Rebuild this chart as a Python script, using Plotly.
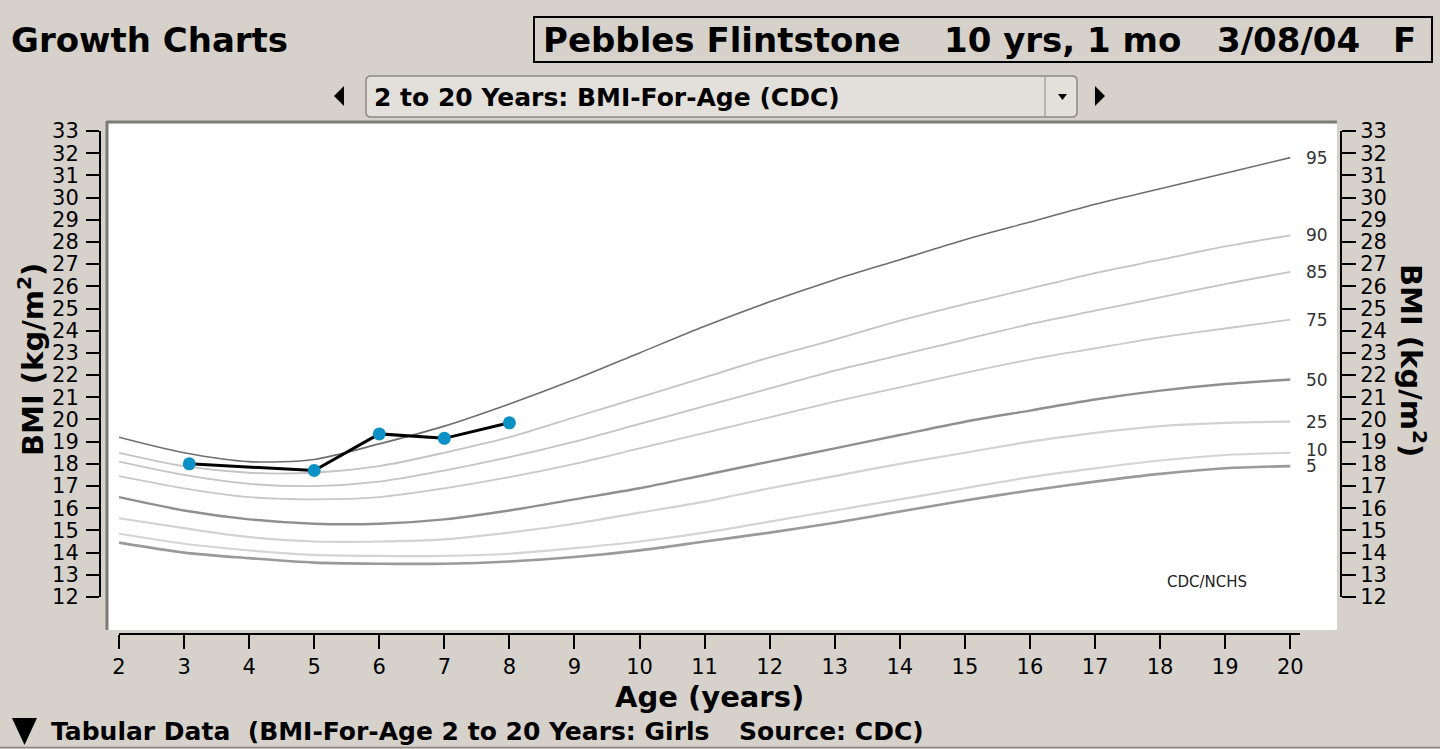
import plotly.graph_objects as go

W, H = 1440, 749
BG = "#d6d2cb"
FONT = "DejaVu Sans"

# CDC BMI-for-age percentiles, girls 2-20 years
ages = list(range(2, 21))
p5 = [14.45, 14.0, 13.75, 13.55, 13.5, 13.5, 13.6, 13.8, 14.1, 14.5, 14.9, 15.35, 15.85, 16.35, 16.8, 17.2, 17.55, 17.8, 17.9]
p10 = [14.85, 14.4, 14.1, 13.9, 13.85, 13.85, 13.95, 14.2, 14.5, 14.9, 15.4, 15.9, 16.4, 16.9, 17.4, 17.8, 18.15, 18.4, 18.5]
p25 = [15.55, 15.1, 14.7, 14.5, 14.5, 14.6, 14.9, 15.3, 15.8, 16.3, 16.9, 17.45, 18.0, 18.5, 19.0, 19.4, 19.7, 19.85, 19.9]
p50 = [16.5, 15.9, 15.5, 15.3, 15.3, 15.5, 15.9, 16.4, 16.9, 17.5, 18.1, 18.7, 19.3, 19.9, 20.4, 20.9, 21.3, 21.6, 21.8]
p75 = [17.45, 16.9, 16.5, 16.4, 16.5, 16.9, 17.4, 18.0, 18.7, 19.4, 20.1, 20.8, 21.45, 22.1, 22.7, 23.2, 23.7, 24.1, 24.5]
p85 = [18.1, 17.5, 17.1, 17.0, 17.2, 17.7, 18.3, 19.0, 19.8, 20.6, 21.4, 22.2, 22.9, 23.6, 24.3, 24.9, 25.5, 26.1, 26.65]
p90 = [18.5, 17.9, 17.6, 17.6, 17.9, 18.5, 19.2, 20.1, 21.0, 21.9, 22.8, 23.6, 24.45, 25.2, 25.9, 26.6, 27.2, 27.8, 28.3]
p95 = [19.2, 18.5, 18.1, 18.2, 18.9, 19.7, 20.7, 21.8, 23.0, 24.2, 25.3, 26.3, 27.2, 28.1, 28.9, 29.7, 30.4, 31.1, 31.8]

percentiles = ["5", "10", "25", "50", "75", "85", "90", "95"]
curves = [p5, p10, p25, p50, p75, p85, p90, p95]
curve_styles = {
    "5": ("#9a9a9a", 2.6),
    "10": ("#d4d4d4", 2.2),
    "25": ("#d2d2d2", 2.2),
    "50": ("#8f8f8f", 2.4),
    "75": ("#c8c8c8", 1.8),
    "85": ("#c4c4c4", 1.8),
    "90": ("#c4c4c4", 1.8),
    "95": ("#6e6e6e", 1.6),
}

# patient measurements
visit_age = [3.08, 5.0, 6.0, 7.0, 8.0]
visit_bmi = [18.0, 17.7, 19.35, 19.15, 19.85]

yticks = list(range(12, 34))
xticks = list(range(2, 21))


def px(x):
    return x / W


def py(y):
    return 1 - y / H


fig = go.Figure()

for name, vals in zip(percentiles, curves):
    color, width = curve_styles[name]
    fig.add_trace(go.Scatter(
        x=ages, y=vals, mode="lines", line=dict(color=color, width=width, shape="spline", smoothing=0.8),
        hoverinfo="skip", showlegend=False,
    ))

fig.add_trace(go.Scatter(
    x=visit_age, y=visit_bmi, mode="lines+markers",
    line=dict(color="black", width=3),
    marker=dict(color="#0b91c6", size=13),
    showlegend=False,
))

# invisible trace so the right-hand axis gets drawn
fig.add_trace(go.Scatter(x=[ages[0]], y=[yticks[0]], yaxis="y2", mode="markers",
                         marker=dict(opacity=0), hoverinfo="skip", showlegend=False))


def path_shape(points, fill):
    p = "M " + " L ".join(f"{px(a):.5f},{py(b):.5f}" for a, b in points) + " Z"
    return dict(type="path", xref="paper", yref="paper", path=p, fillcolor=fill, line=dict(width=0))


def rounded_rect(x0, y0, x1, y1, r, fill, line_color, line_width):
    sx, sy = r / W, r / H
    a0, a1, b0, b1 = px(x0), px(x1), py(y1), py(y0)
    p = (f"M {a0 + sx:.5f},{b1:.5f} L {a1 - sx:.5f},{b1:.5f} Q {a1:.5f},{b1:.5f} {a1:.5f},{b1 - sy:.5f} "
         f"L {a1:.5f},{b0 + sy:.5f} Q {a1:.5f},{b0:.5f} {a1 - sx:.5f},{b0:.5f} "
         f"L {a0 + sx:.5f},{b0:.5f} Q {a0:.5f},{b0:.5f} {a0:.5f},{b0 + sy:.5f} "
         f"L {a0:.5f},{b1 - sy:.5f} Q {a0:.5f},{b1:.5f} {a0 + sx:.5f},{b1:.5f} Z")
    return dict(type="path", xref="paper", yref="paper", path=p, fillcolor=fill,
                line=dict(color=line_color, width=line_width))


shapes = []
# white chart panel with sunken edge
shapes.append(dict(type="rect", xref="paper", yref="paper", x0=px(108), x1=px(1337), y0=py(630), y1=py(122),
                   fillcolor="white", line=dict(width=0), layer="below"))
shapes.append(dict(type="line", xref="paper", yref="paper", x0=px(107), x1=px(1337), y0=py(122), y1=py(122),
                   line=dict(color="#7d7b77", width=3), layer="below"))
shapes.append(dict(type="line", xref="paper", yref="paper", x0=px(107), x1=px(107), y0=py(630), y1=py(121),
                   line=dict(color="#7d7b77", width=3), layer="below"))
# patient header box
shapes.append(dict(type="rect", xref="paper", yref="paper", x0=px(534), x1=px(1432), y0=py(62), y1=py(17),
                   line=dict(color="black", width=2), fillcolor="rgba(0,0,0,0)"))
# dropdown box
shapes.append(rounded_rect(366, 76, 1077, 117, 5, "#e3e0db", "#8d8983", 1.5))
shapes.append(dict(type="line", xref="paper", yref="paper", x0=px(1045), x1=px(1045), y0=py(116), y1=py(77),
                   line=dict(color="#8d8983", width=1)))
shapes.append(dict(type="line", xref="paper", yref="paper", x0=0, x1=1, y0=py(747.5), y1=py(747.5),
                   line=dict(color="#8a8780", width=1.5)))

shapes.append(path_shape([(334, 96), (344, 86), (344, 106)], "black"))
shapes.append(path_shape([(1105, 96), (1095, 86), (1095, 106)], "black"))
shapes.append(path_shape([(1058, 94), (1067, 94), (1062.5, 100)], "black"))
shapes.append(path_shape([(12, 718), (37, 718), (24.5, 745)], "black"))

annotations = []


def label(text, x, y, size, xanchor="left", bold=True, color="black", textangle=0):
    annotations.append(dict(
        text=f"<b>{text}</b>" if bold else text, x=px(x), y=py(y), xref="paper", yref="paper",
        xanchor=xanchor, yanchor="middle", showarrow=False, textangle=textangle,
        font=dict(family=FONT, size=size, color=color),
    ))


label("Growth Charts", 9, 40, 34)
label("Pebbles Flintstone", 541, 40, 34)
label("10 yrs, 1 mo", 942, 40, 34)
label("3/08/04", 1215, 40, 34)
label("F", 1391, 40, 34)
label("2 to 20 Years: BMI-For-Age (CDC)", 372, 97, 25)
label("Age (years)", 709, 697, 29, xanchor="center")
label("BMI (kg/m<sup>2</sup>)", 31, 360, 29, xanchor="center", textangle=-90)
label("BMI (kg/m<sup>2</sup>)", 1413, 360, 29, xanchor="center", textangle=90)
label("Tabular Data  (BMI-For-Age 2 to 20 Years: Girls", 49, 731, 25)
label("Source: CDC)", 737, 731, 25)
label("CDC/NCHS", 1207, 582, 15, xanchor="center", bold=False, color="#222")

# percentile labels at the end of each curve
for name, vals in zip(percentiles, curves):
    annotations.append(dict(
        text=name, x=ages[-1], y=vals[-1], xref="x", yref="y", xanchor="left", yanchor="middle",
        xshift=14, yshift=3 if name == "10" else 0, showarrow=False,
        font=dict(family=FONT, size=17, color="#333"),
    ))

axis_common = dict(
    showline=True, linecolor="black", linewidth=2, ticks="outside", tickcolor="black",
    tickwidth=2, showgrid=False, zeroline=False, automargin=False,
    tickfont=dict(family=FONT, size=21, color="black"),
)

fig.update_layout(
    width=W, height=H, margin=dict(l=0, r=0, t=0, b=0, pad=0), autosize=False,
    paper_bgcolor=BG, plot_bgcolor="rgba(0,0,0,0)",
    font=dict(family=FONT),
    xaxis=dict(domain=[px(119), px(1300)], range=[2, 20.15], anchor="free", position=py(634),
               tickvals=xticks, ticklen=14, **axis_common),
    yaxis=dict(domain=[py(597), py(131)], range=[12, 33], anchor="free", position=px(100),
               tickvals=yticks, ticklen=13, ticklabelstandoff=3, **axis_common),
    yaxis2=dict(domain=[py(597), py(131)], range=[12, 33], anchor="free", position=px(1341),
                overlaying="y", side="right", tickvals=yticks, ticklen=14, **axis_common),
    shapes=shapes,
    annotations=annotations,
    hovermode="closest",
)

fig.write_html(
    "out.html", config={"displayModeBar": False},
    post_script=f"document.body.style.margin='0';document.body.style.overflow='hidden';"
                f"document.body.style.background='{BG}';",
)
